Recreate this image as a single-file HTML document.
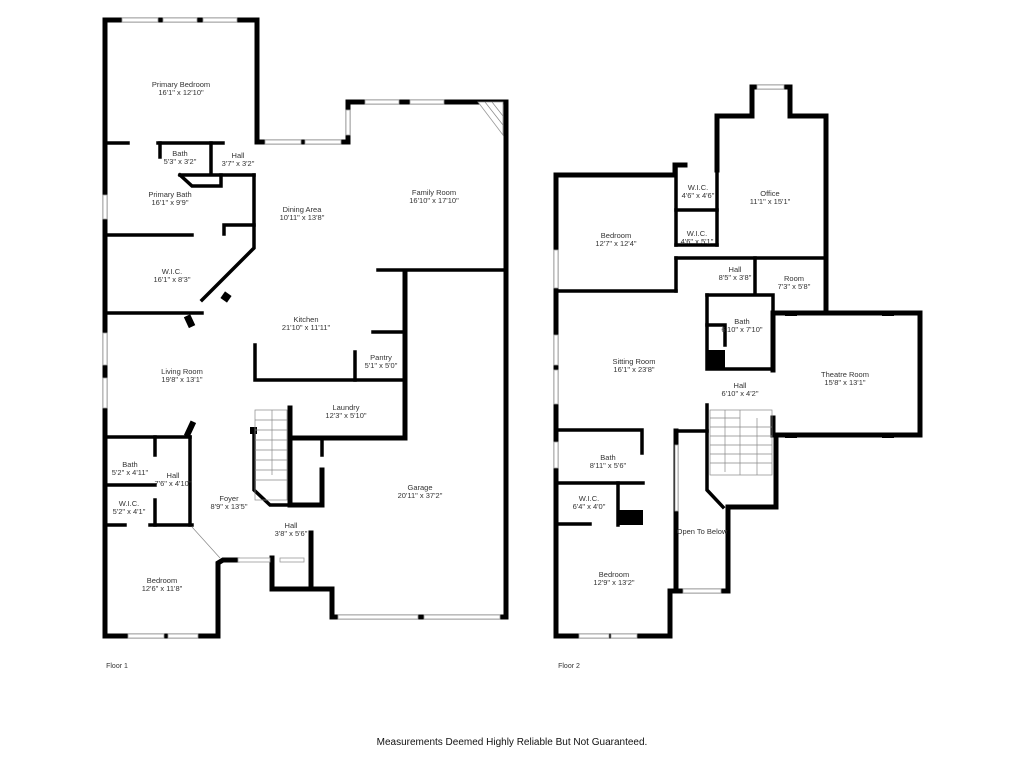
<!DOCTYPE html>
<html><head><meta charset="utf-8"><style>
html,body{margin:0;padding:0;background:#fff;}
svg{display:block}
text{font-family:"Liberation Sans",sans-serif;font-size:7.5px;fill:#333;text-anchor:middle}
.w{fill:none;stroke:#000;stroke-width:5;stroke-linejoin:miter;stroke-linecap:square}
.t{fill:none;stroke:#000;stroke-width:3.5;stroke-linecap:square}
.win{fill:#fff;stroke:#999;stroke-width:0.8}
.st{fill:none;stroke:#888;stroke-width:0.7}
</style></head><body>
<svg width="1024" height="768" viewBox="0 0 1024 768" xmlns="http://www.w3.org/2000/svg">
<!-- FLOOR 1 outer -->
<polyline class="w" points="105,20 105,636 218,636 218,563 223,560 237,560"/>
<polyline class="w" points="105,20 257,20 257,142 348,142 348,102 506,102 506,617 332,617 332,589 272,589 272,558"/>
<polyline class="w" points="311,533 311,589"/>
<!-- windows floor1 -->
<rect class="win" x="122" y="18" width="36" height="4"/><rect class="win" x="163" y="18" width="34" height="4"/><rect class="win" x="203" y="18" width="34" height="4"/>
<rect class="win" x="265" y="140" width="36" height="4"/><rect class="win" x="305" y="140" width="36" height="4"/>
<rect class="win" x="365" y="100" width="34" height="4"/><rect class="win" x="410" y="100" width="34" height="4"/>
<rect class="win" x="346" y="110" width="4" height="25"/>
<rect class="win" x="103" y="195" width="4" height="24"/>
<rect class="win" x="103" y="333" width="4" height="32"/><rect class="win" x="103" y="378" width="4" height="30"/>
<rect class="win" x="128" y="634" width="36" height="4"/><rect class="win" x="168" y="634" width="30" height="4"/>
<rect class="win" x="338" y="615" width="80" height="4"/><rect class="win" x="424" y="615" width="76" height="4"/>
<rect class="win" x="238" y="558" width="32" height="4"/><rect class="win" x="280" y="558" width="24" height="4"/>
<polygon points="478,102 503,102 503,135" fill="#fff" stroke="#999" stroke-width="0.8"/>
<line x1="485" y1="102" x2="503" y2="125" class="st"/><line x1="492" y1="102" x2="503" y2="116" class="st"/>
<!-- interior floor1 -->
<polyline class="t" points="105,143 128,143"/>
<polyline class="t" points="158,143 223,143"/>
<polyline class="t" points="160,143 160,157"/>
<polyline class="t" points="211,143 211,174"/>
<polyline class="t" points="180,175 254,175"/>
<polyline class="t" points="180,175 192,186 221,186 221,175"/>
<polyline class="t" points="254,175 254,248 202,300"/>
<polyline class="t" points="105,235 192,235"/>
<polyline class="t" points="224,234 224,225 254,225"/>
<polyline class="t" points="105,313 202,313"/>
<rect x="222" y="293" width="8" height="8" transform="rotate(35 226 297)"/>
<rect x="186" y="315" width="7" height="12" transform="rotate(-25 190 321)"/>
<polyline class="t" points="378,270 506,270"/>
<polyline class="w" points="405,273 405,438 290,438"/>
<polyline class="t" points="255,345 255,380 405,380"/>
<polyline class="t" points="355,352 355,380"/>
<polyline class="t" points="373,332 405,332"/>
<polyline class="w" points="290,408 290,505 322,505 322,470"/>
<polyline class="t" points="322,440 322,455"/>
<polyline class="t" points="254,430 254,490 270,505 290,505"/>
<rect x="250" y="427" width="7" height="7"/>
<!-- stairs floor1 -->
<rect x="255" y="410" width="32" height="90" class="st"/>
<g class="st"><line x1="255" y1="420" x2="287" y2="420"/><line x1="255" y1="430" x2="287" y2="430"/><line x1="255" y1="440" x2="287" y2="440"/><line x1="255" y1="450" x2="287" y2="450"/><line x1="255" y1="460" x2="287" y2="460"/><line x1="255" y1="470" x2="287" y2="470"/><line x1="255" y1="480" x2="287" y2="480"/><line x1="272" y1="410" x2="272" y2="475"/></g>
<polyline class="t" points="105,437 190,437"/>
<polyline class="t" points="155,437 155,455"/>
<polyline class="t" points="190,437 190,525"/>
<rect x="187" y="421" width="6" height="16" transform="rotate(25 190 429)"/>
<polyline class="t" points="105,485 155,485"/>
<polyline class="t" points="155,500 155,525"/>
<polyline class="t" points="105,525 125,525"/>
<polyline class="t" points="150,525 192,525"/>
<line x1="192" y1="527" x2="220" y2="558" class="st"/>
<!-- labels floor1 -->
<text x="181" y="87">Primary Bedroom</text><text x="181" y="95">16'1" x 12'10"</text>
<text x="180" y="156">Bath</text><text x="180" y="164">5'3" x 3'2"</text>
<text x="238" y="158">Hall</text><text x="238" y="166">3'7" x 3'2"</text>
<text x="170" y="197">Primary Bath</text><text x="170" y="205">16'1" x 9'9"</text>
<text x="172" y="274">W.I.C.</text><text x="172" y="282">16'1" x 8'3"</text>
<text x="302" y="212">Dining Area</text><text x="302" y="220">10'11" x 13'8"</text>
<text x="434" y="195">Family Room</text><text x="434" y="203">16'10" x 17'10"</text>
<text x="306" y="322">Kitchen</text><text x="306" y="330">21'10" x 11'11"</text>
<text x="381" y="360">Pantry</text><text x="381" y="368">5'1" x 5'0"</text>
<text x="182" y="374">Living Room</text><text x="182" y="382">19'8" x 13'1"</text>
<text x="346" y="410">Laundry</text><text x="346" y="418">12'3" x 5'10"</text>
<text x="130" y="467">Bath</text><text x="130" y="475">5'2" x 4'11"</text>
<text x="173" y="478">Hall</text><text x="173" y="486">7'6" x 4'10"</text>
<text x="129" y="506">W.I.C.</text><text x="129" y="514">5'2" x 4'1"</text>
<text x="229" y="501">Foyer</text><text x="229" y="509">8'9" x 13'5"</text>
<text x="291" y="528">Hall</text><text x="291" y="536">3'8" x 5'6"</text>
<text x="420" y="490">Garage</text><text x="420" y="498">20'11" x 37'2"</text>
<text x="162" y="583">Bedroom</text><text x="162" y="591">12'6" x 11'8"</text>

<!-- FLOOR 2 outer -->
<polyline class="w" points="556,175 675,175 675,165 685,165"/>
<polyline class="w" points="556,175 556,636 670,636 670,591 676,591"/>
<polyline class="w" points="717,170 717,116 752,116 752,87 790,87 790,116 826,116 826,313 920,313 920,435 773,435"/>
<polyline class="w" points="773,313 826,313"/>
<polyline class="w" points="773,313 773,370"/>
<polyline class="w" points="773,418 773,435"/>
<polyline class="w" points="676,431 676,591 728,591 728,507 776,507 776,435"/>
<polyline class="t" points="676,431 707,431"/>
<polyline class="t" points="707,405 707,490 723,507"/>
<!-- windows floor 2 -->
<rect class="win" x="757" y="85" width="27" height="4"/>
<rect class="win" x="554" y="250" width="4" height="38"/>
<rect class="win" x="554" y="335" width="4" height="30"/><rect class="win" x="554" y="370" width="4" height="34"/>
<rect class="win" x="554" y="442" width="4" height="26"/>
<rect class="win" x="579" y="634" width="30" height="4"/><rect class="win" x="611" y="634" width="26" height="4"/>
<rect class="win" x="683" y="589" width="38" height="4"/>
<rect class="win" x="675" y="445" width="3" height="66"/>
<rect x="785" y="311" width="12" height="5"/><rect x="882" y="311" width="12" height="5"/>
<rect x="785" y="433" width="12" height="5"/><rect x="882" y="433" width="12" height="5"/>
<!-- interior floor2 -->
<polyline class="t" points="676,165 676,245"/>
<polyline class="t" points="676,210 717,210"/>
<polyline class="t" points="676,245 717,245"/>
<polyline class="t" points="717,165 717,245"/>
<polyline class="t" points="556,291 676,291"/>
<polyline class="t" points="676,258 676,291"/>
<polyline class="t" points="676,258 826,258"/>
<polyline class="t" points="755,258 755,293"/>
<polyline class="t" points="707,295 773,295 773,313"/>
<polyline class="t" points="707,295 707,369 773,369"/>
<polyline class="t" points="707,325 725,325 725,345"/>
<rect x="707" y="350" width="18" height="20"/>
<!-- stairs floor 2 -->
<rect x="710" y="410" width="62" height="65" class="st"/>
<g class="st"><line x1="710" y1="418" x2="740" y2="418"/><line x1="710" y1="427" x2="772" y2="427"/><line x1="710" y1="436" x2="772" y2="436"/><line x1="710" y1="445" x2="772" y2="445"/><line x1="710" y1="454" x2="772" y2="454"/><line x1="710" y1="463" x2="772" y2="463"/><line x1="740" y1="410" x2="740" y2="475"/><line x1="725" y1="410" x2="725" y2="472"/><line x1="757" y1="418" x2="757" y2="475"/></g>
<polyline class="t" points="556,430 642,430 642,453"/>
<polyline class="t" points="556,483 643,483"/>
<polyline class="t" points="618,483 618,525"/>
<rect x="618" y="510" width="25" height="15"/>
<polyline class="t" points="556,524 590,524"/>
<!-- labels floor2 -->
<text x="770" y="196">Office</text><text x="770" y="204">11'1" x 15'1"</text>
<text x="698" y="190">W.I.C.</text><text x="698" y="198">4'6" x 4'6"</text>
<text x="697" y="236">W.I.C.</text><text x="697" y="244">4'6" x 5'1"</text>
<text x="616" y="238">Bedroom</text><text x="616" y="246">12'7" x 12'4"</text>
<text x="735" y="272">Hall</text><text x="735" y="280">8'5" x 3'8"</text>
<text x="794" y="281">Room</text><text x="794" y="289">7'3" x 5'8"</text>
<text x="742" y="324">Bath</text><text x="742" y="332">6'10" x 7'10"</text>
<text x="634" y="364">Sitting Room</text><text x="634" y="372">16'1" x 23'8"</text>
<text x="740" y="388">Hall</text><text x="740" y="396">6'10" x 4'2"</text>
<text x="845" y="377">Theatre Room</text><text x="845" y="385">15'8" x 13'1"</text>
<text x="608" y="460">Bath</text><text x="608" y="468">8'11" x 5'6"</text>
<text x="589" y="501">W.I.C.</text><text x="589" y="509">6'4" x 4'0"</text>
<text x="702" y="534">Open To Below</text>
<text x="614" y="577">Bedroom</text><text x="614" y="585">12'9" x 13'2"</text>

<text x="117" y="668" style="font-size:7px">Floor 1</text>
<text x="569" y="668" style="font-size:7px">Floor 2</text>
<text x="512" y="745" style="font-size:10px;fill:#111">Measurements Deemed Highly Reliable But Not Guaranteed.</text>
</svg>
</body></html>
